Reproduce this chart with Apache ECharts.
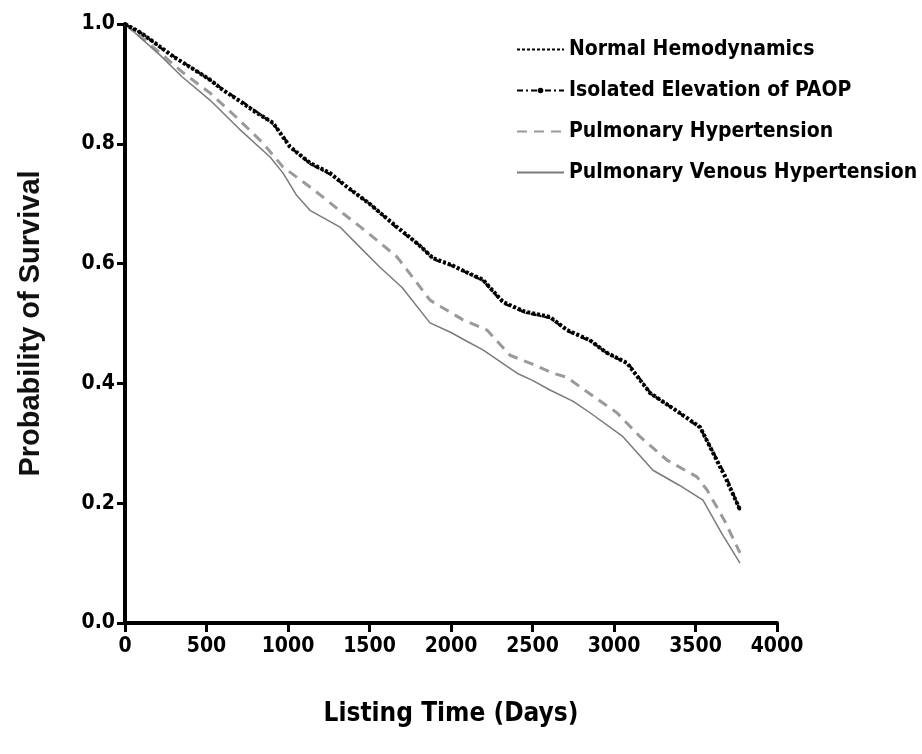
<!DOCTYPE html>
<html>
<head>
<meta charset="utf-8">
<script src="https://cdn.jsdelivr.net/npm/echarts@6/dist/echarts.min.js"></script>
<style>
  html, body { margin: 0; padding: 0; background: #fff; }
  #main { width: 922px; height: 754px; }
</style>
</head>
<body>
<div id="main"></div>
<script>
// Kaplan-Meier curves
const normalDays = [0, 100, 215, 300, 400, 521, 600, 700, 800, 908, 960, 1012, 1135, 1258, 1362, 1500, 1669, 1800, 1890, 2000, 2100, 2196, 2319, 2450, 2607, 2712, 2853, 2950, 3080, 3221, 3380, 3528, 3589, 3680, 3773];
const normalSurv = [1.0, 0.985, 0.962, 0.945, 0.928, 0.907, 0.89, 0.872, 0.853, 0.835, 0.815, 0.795, 0.768, 0.751, 0.728, 0.70, 0.661, 0.632, 0.609, 0.598, 0.585, 0.573, 0.536, 0.52, 0.511, 0.489, 0.472, 0.452, 0.434, 0.384, 0.355, 0.327, 0.294, 0.245, 0.189];

const paopDays = [0, 110, 220, 310, 420, 530, 620, 720, 820, 910, 970, 1020, 1140, 1260, 1370, 1510, 1670, 1810, 1895, 2010, 2110, 2200, 2320, 2460, 2610, 2720, 2860, 2960, 3090, 3230, 3390, 3530, 3595, 3690, 3775];
const paopSurv = [1.0, 0.983, 0.960, 0.944, 0.925, 0.905, 0.887, 0.870, 0.851, 0.833, 0.812, 0.793, 0.766, 0.749, 0.726, 0.698, 0.659, 0.630, 0.607, 0.596, 0.583, 0.571, 0.534, 0.518, 0.509, 0.487, 0.470, 0.450, 0.432, 0.382, 0.353, 0.325, 0.292, 0.243, 0.187];

const phDays = [0, 215, 350, 521, 700, 847, 970, 1100, 1215, 1337, 1450, 1564, 1669, 1771, 1871, 2074, 2221, 2362, 2500, 2626, 2712, 2834, 3018, 3160, 3325, 3509, 3571, 3680, 3773];
const phSurv = [1.0, 0.952, 0.92, 0.885, 0.84, 0.801, 0.761, 0.735, 0.711, 0.684, 0.66, 0.635, 0.611, 0.575, 0.539, 0.506, 0.489, 0.447, 0.432, 0.417, 0.41, 0.386, 0.351, 0.311, 0.272, 0.244, 0.222, 0.17, 0.117];

const pvhDays = [0, 215, 350, 521, 700, 890, 970, 1050, 1135, 1319, 1450, 1564, 1700, 1871, 2000, 2100, 2196, 2405, 2500, 2607, 2750, 2853, 3055, 3239, 3400, 3546, 3660, 3773];
const pvhSurv = [1.0, 0.948, 0.912, 0.873, 0.825, 0.778, 0.751, 0.715, 0.689, 0.661, 0.625, 0.594, 0.56, 0.501, 0.485, 0.47, 0.456, 0.417, 0.405, 0.389, 0.37, 0.351, 0.311, 0.255, 0.23, 0.205, 0.15, 0.100];

const seriesNames = ['Normal Hemodynamics', 'Isolated Elevation of PAOP', 'Pulmonary Hypertension', 'Pulmonary Venous Hypertension'];

function pairs(xs, ys) {
  return xs.map((x, i) => [x, ys[i]]);
}

const narrow = "'Liberation Sans Narrow', 'Arial Narrow', 'DejaVu Sans Condensed', sans-serif";
const arial = "'Liberation Sans', Arial, sans-serif";
const noDot = { opacity: 0 };

const myChart = echarts.init(document.getElementById('main'));
myChart.setOption({
  backgroundColor: '#fff',
  animation: false,
  grid: { left: 125, right: 145, top: 24, bottom: 131, containLabel: false },
  legend: {
    orient: 'vertical',
    left: 511,
    top: 34,
    itemWidth: 47,
    itemHeight: 7,
    itemGap: 20,
    textStyle: { fontFamily: narrow, fontWeight: 'bold', fontSize: 21, color: '#000' },
    data: [
      { name: seriesNames[0], itemStyle: noDot },
      { name: seriesNames[1] },
      { name: seriesNames[2], itemStyle: noDot },
      { name: seriesNames[3], itemStyle: noDot }
    ]
  },
  xAxis: {
    type: 'value',
    min: 0,
    max: 4000,
    interval: 500,
    name: 'Listing Time (Days)',
    nameLocation: 'middle',
    nameGap: 78,
    nameTextStyle: { fontFamily: narrow, fontWeight: 'bold', fontSize: 26, color: '#000' },
    splitLine: { show: false },
    axisLine: { lineStyle: { color: '#000', width: 4 } },
    axisTick: { length: 9, lineStyle: { color: '#000', width: 3 } },
    axisLabel: {
      fontFamily: narrow, fontWeight: 'bold', fontSize: 21, color: '#000', margin: 13,
      formatter: v => String(v)
    }
  },
  yAxis: {
    type: 'value',
    min: 0,
    max: 1,
    interval: 0.2,
    name: 'Probability of Survival',
    nameLocation: 'middle',
    nameGap: 80,
    nameTextStyle: { fontFamily: arial, fontWeight: 'bold', fontSize: 29, color: '#111' },
    splitLine: { show: false },
    axisLine: { lineStyle: { color: '#000', width: 4 } },
    axisTick: { length: 8, lineStyle: { color: '#000', width: 3 } },
    axisLabel: {
      fontFamily: narrow, fontWeight: 'bold', fontSize: 21, color: '#000', margin: 10,
      formatter: v => v.toFixed(1)
    }
  },
  series: [
    {
      name: seriesNames[0], type: 'line', symbol: 'none', z: 4,
      lineStyle: { color: '#000', width: 4, type: [3, 2] },
      itemStyle: { color: '#000' },
      data: pairs(normalDays, normalSurv)
    },
    {
      name: seriesNames[1], type: 'line', symbol: 'circle', symbolSize: 5, showSymbol: false, z: 4,
      lineStyle: { color: '#000', width: 2.5, type: [6, 3, 2, 3] },
      itemStyle: { color: '#000' },
      data: pairs(paopDays, paopSurv)
    },
    {
      name: seriesNames[2], type: 'line', symbol: 'none', z: 3,
      lineStyle: { color: '#9a9a9a', width: 3, type: [10, 7] },
      itemStyle: { color: '#9a9a9a' },
      data: pairs(phDays, phSurv)
    },
    {
      name: seriesNames[3], type: 'line', symbol: 'none', z: 3,
      lineStyle: { color: '#7a7a7a', width: 1.5 },
      itemStyle: { color: '#7a7a7a' },
      data: pairs(pvhDays, pvhSurv)
    }
  ]
});
</script>
</body>
</html>
